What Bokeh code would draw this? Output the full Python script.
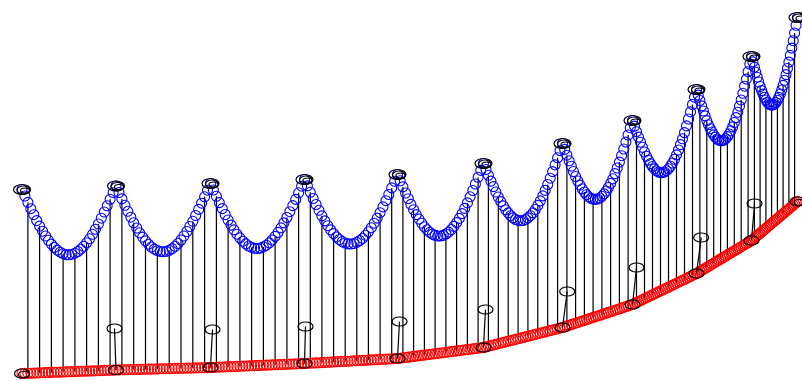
from bokeh.plotting import figure
from bokeh.embed import file_html
from bokeh.resources import INLINE

# sample positions along the curves (left to right)
xs = [
    21.5, 24.4, 27.4, 30.3, 33.3, 36.2, 39.1, 42.1, 45.0, 47.9, 50.9, 53.8, 56.8, 59.7, 62.6, 65.6,
    68.5, 71.4, 74.4, 77.3, 80.3, 83.2, 86.1, 89.1, 92.0, 94.9, 97.9, 100.8, 103.8, 106.7, 109.6, 112.6,
    115.5, 118.5, 121.4, 124.4, 127.3, 130.3, 133.2, 136.2, 139.1, 142.1, 145.0, 148.0, 150.9, 153.9, 156.8, 159.8,
    162.7, 165.7, 168.7, 171.6, 174.6, 177.5, 180.5, 183.4, 186.4, 189.3, 192.3, 195.2, 198.2, 201.1, 204.1, 207.0,
    210.0, 212.9, 215.9, 218.8, 221.8, 224.7, 227.6, 230.6, 233.5, 236.4, 239.4, 242.3, 245.3, 248.2, 251.1, 254.1,
    257.0, 259.9, 262.9, 265.8, 268.8, 271.7, 274.6, 277.6, 280.5, 283.4, 286.4, 289.3, 292.3, 295.2, 298.1, 301.1,
    304.0, 306.9, 309.8, 312.7, 315.6, 318.5, 321.4, 324.3, 327.3, 330.2, 333.1, 336.0, 338.9, 341.8, 344.7, 347.6,
    350.5, 353.4, 356.3, 359.2, 362.1, 365.0, 367.9, 370.8, 373.7, 376.7, 379.6, 382.5, 385.4, 388.3, 391.2, 394.1,
    397.0, 399.7, 402.4, 405.1, 407.8, 410.4, 413.1, 415.8, 418.5, 421.2, 423.9, 426.6, 429.3, 431.9, 434.6, 437.3,
    440.0, 442.7, 445.4, 448.1, 450.8, 453.4, 456.1, 458.8, 461.5, 464.2, 466.9, 469.6, 472.3, 474.9, 477.6, 480.3,
    483.0, 485.5, 487.9, 490.4, 492.9, 495.3, 497.8, 500.3, 502.8, 505.2, 507.7, 510.2, 512.6, 515.1, 517.6, 520.0,
    522.5, 525.0, 527.4, 529.9, 532.4, 534.8, 537.3, 539.8, 542.3, 544.7, 547.2, 549.7, 552.1, 554.6, 557.1, 559.5,
    562.0, 564.2, 566.4, 568.6, 570.8, 572.9, 575.1, 577.3, 579.5, 581.7, 583.9, 586.1, 588.3, 590.4, 592.6, 594.8,
    597.0, 599.2, 601.4, 603.6, 605.8, 607.9, 610.1, 612.3, 614.5, 616.7, 618.9, 621.1, 623.3, 625.4, 627.6, 629.8,
    632.0, 634.0, 636.0, 638.0, 640.0, 642.0, 644.0, 646.0, 648.0, 650.0, 652.0, 654.0, 656.0, 658.0, 660.0, 662.0,
    664.0, 666.0, 668.0, 670.0, 672.0, 674.0, 676.0, 678.0, 680.0, 682.0, 684.0, 686.0, 688.0, 690.0, 692.0, 694.0,
    696.0, 697.7, 699.4, 701.2, 702.9, 704.6, 706.3, 708.0, 709.8, 711.5, 713.2, 714.9, 716.6, 718.3, 720.1, 721.8,
    723.5, 725.2, 726.9, 728.7, 730.4, 732.1, 733.8, 735.5, 737.3, 739.0, 740.7, 742.4, 744.1, 745.9, 747.6, 749.3,
    751.0, 752.4, 753.9, 755.3, 756.8, 758.2, 759.6, 761.1, 762.5, 763.9, 765.4, 766.8, 768.3, 769.7, 771.1, 772.6,
    774.0, 775.4, 776.9, 778.3, 779.8, 781.2, 782.6, 784.1, 785.5, 786.9, 788.4, 789.8, 791.3, 792.7, 794.1, 795.6,
    797.0,
]

# lower (red) series
red_y = [
    8.0, 8.1, 8.2, 8.3, 8.4, 8.5, 8.7, 8.8, 8.9, 9.0, 9.1, 9.2, 9.3, 9.4, 9.5, 9.6,
    9.7, 9.9, 10.0, 10.1, 10.2, 10.3, 10.4, 10.5, 10.6, 10.7, 10.8, 10.9, 11.1, 11.2, 11.3, 11.4,
    11.5, 11.6, 11.7, 11.7, 11.8, 11.9, 12.0, 12.0, 12.1, 12.2, 12.3, 12.4, 12.4, 12.5, 12.6, 12.7,
    12.8, 12.8, 12.9, 13.0, 13.1, 13.1, 13.2, 13.3, 13.4, 13.5, 13.5, 13.6, 13.7, 13.8, 13.8, 13.9,
    14.0, 14.1, 14.3, 14.4, 14.5, 14.6, 14.8, 14.9, 15.0, 15.1, 15.3, 15.4, 15.5, 15.6, 15.8, 15.9,
    16.0, 16.1, 16.3, 16.4, 16.5, 16.6, 16.8, 16.9, 17.0, 17.1, 17.3, 17.4, 17.5, 17.6, 17.8, 17.9,
    18.0, 18.2, 18.3, 18.5, 18.6, 18.8, 18.9, 19.1, 19.2, 19.4, 19.6, 19.7, 19.9, 20.0, 20.2, 20.3,
    20.5, 20.7, 20.8, 21.0, 21.1, 21.3, 21.4, 21.6, 21.7, 21.9, 22.1, 22.2, 22.4, 22.5, 22.7, 22.8,
    23.0, 23.3, 23.7, 24.0, 24.4, 24.7, 25.1, 25.4, 25.8, 26.1, 26.4, 26.8, 27.1, 27.5, 27.8, 28.2,
    28.5, 28.8, 29.2, 29.5, 29.9, 30.2, 30.6, 30.9, 31.3, 31.6, 31.9, 32.3, 32.6, 33.0, 33.3, 33.7,
    34.0, 34.6, 35.3, 35.9, 36.5, 37.1, 37.8, 38.4, 39.0, 39.6, 40.3, 40.9, 41.5, 42.1, 42.8, 43.4,
    44.0, 44.6, 45.3, 45.9, 46.5, 47.1, 47.8, 48.4, 49.0, 49.6, 50.3, 50.9, 51.5, 52.1, 52.8, 53.4,
    54.0, 54.7, 55.4, 56.2, 56.9, 57.6, 58.3, 59.0, 59.8, 60.5, 61.2, 61.9, 62.6, 63.3, 64.1, 64.8,
    65.5, 66.2, 66.9, 67.7, 68.4, 69.1, 69.8, 70.5, 71.3, 72.0, 72.7, 73.4, 74.1, 74.9, 75.6, 76.3,
    77.0, 78.0, 78.9, 79.9, 80.9, 81.8, 82.8, 83.8, 84.8, 85.7, 86.7, 87.7, 88.6, 89.6, 90.6, 91.5,
    92.5, 93.5, 94.4, 95.4, 96.4, 97.3, 98.3, 99.3, 100.3, 101.2, 102.2, 103.2, 104.1, 105.1, 106.1, 107.0,
    108.0, 109.0, 110.1, 111.1, 112.1, 113.2, 114.2, 115.2, 116.2, 117.3, 118.3, 119.3, 120.4, 121.4, 122.4, 123.5,
    124.5, 125.5, 126.6, 127.6, 128.6, 129.7, 130.7, 131.7, 132.7, 133.8, 134.8, 135.8, 136.9, 137.9, 138.9, 140.0,
    141.0, 142.2, 143.4, 144.7, 145.9, 147.1, 148.3, 149.5, 150.8, 152.0, 153.2, 154.4, 155.6, 156.8, 158.1, 159.3,
    160.5, 161.7, 162.9, 164.2, 165.4, 166.6, 167.8, 169.0, 170.3, 171.5, 172.7, 173.9, 175.1, 176.3, 177.6, 178.8,
    180.0,
]

# upper (blue) series
blue_y = [
    192.0, 185.5, 179.1, 172.8, 166.8, 160.9, 155.4, 150.3, 145.5, 141.2, 137.4, 134.1, 131.4, 129.3, 127.8, 126.9,
    126.7, 127.2, 128.3, 130.0, 132.3, 135.2, 138.7, 142.7, 147.2, 152.2, 157.5, 163.3, 169.5, 175.7, 182.2, 188.8,
    195.5, 189.0, 182.6, 176.2, 170.2, 164.3, 158.7, 153.5, 148.7, 144.4, 140.6, 137.3, 134.5, 132.4, 130.9, 130.0,
    129.8, 130.1, 131.2, 132.9, 135.2, 138.0, 141.5, 145.5, 150.0, 155.0, 160.2, 166.0, 172.1, 178.3, 184.7, 191.3,
    198.0, 191.5, 185.2, 178.9, 172.9, 167.0, 161.5, 156.4, 151.6, 147.3, 143.6, 140.3, 137.6, 135.5, 134.1, 133.2,
    133.0, 133.4, 134.6, 136.3, 138.6, 141.5, 145.1, 149.1, 153.6, 158.6, 164.0, 169.8, 175.9, 182.1, 188.7, 195.3,
    202.0, 195.6, 189.2, 183.0, 177.0, 171.2, 165.6, 160.6, 155.8, 151.6, 147.9, 144.6, 142.0, 139.9, 138.5, 137.6,
    137.5, 138.0, 139.1, 140.9, 143.2, 146.2, 149.7, 153.8, 158.3, 163.4, 168.8, 174.6, 180.8, 187.0, 193.6, 200.2,
    207.0, 200.7, 194.6, 188.5, 182.8, 177.1, 171.8, 166.9, 162.4, 158.3, 154.7, 151.7, 149.2, 147.4, 146.1, 145.5,
    145.5, 146.1, 147.5, 149.4, 152.0, 155.1, 158.9, 163.1, 167.9, 173.1, 178.6, 184.7, 191.0, 197.5, 204.2, 211.1,
    218.0, 212.0, 206.2, 200.4, 194.9, 189.5, 184.5, 179.9, 175.6, 171.8, 168.6, 165.8, 163.6, 162.0, 161.1, 160.7,
    161.0, 161.9, 163.6, 165.8, 168.6, 172.0, 176.1, 180.6, 185.6, 191.1, 197.0, 203.3, 209.9, 216.6, 223.7, 230.8,
    238.0, 232.1, 226.3, 220.7, 215.3, 210.0, 205.0, 200.5, 196.4, 192.7, 189.5, 186.8, 184.7, 183.2, 182.4, 182.1,
    182.5, 183.5, 185.2, 187.6, 190.5, 194.0, 198.1, 202.7, 207.9, 213.5, 219.4, 225.8, 232.5, 239.4, 246.5, 253.7,
    261.0, 255.4, 249.8, 244.4, 239.3, 234.2, 229.5, 225.3, 221.4, 217.9, 215.0, 212.6, 210.7, 209.5, 208.9, 208.8,
    209.5, 210.8, 212.7, 215.3, 218.5, 222.2, 226.6, 231.5, 236.9, 242.7, 248.9, 255.6, 262.5, 269.6, 277.0, 284.4,
    292.0, 286.4, 281.0, 275.6, 270.5, 265.6, 260.9, 256.7, 252.8, 249.5, 246.6, 244.2, 242.5, 241.3, 240.7, 240.8,
    241.5, 242.8, 244.9, 247.5, 250.7, 254.6, 259.0, 263.9, 269.3, 275.3, 281.5, 288.2, 295.3, 302.4, 309.8, 317.4,
    325.0, 319.6, 314.3, 309.2, 304.3, 299.5, 295.0, 291.0, 287.4, 284.2, 281.5, 279.3, 277.7, 276.7, 276.4, 276.6,
    277.5, 279.0, 281.2, 284.1, 287.5, 291.5, 296.1, 301.2, 306.9, 313.0, 319.4, 326.2, 333.4, 340.8, 348.5, 356.2,
    364.0,
]

# raised markers above the lower series at each crest
mark_x = [114.0, 212.0, 305.0, 399.0, 485.0, 566.7, 636.0, 700.7, 754.0]
mark_y = [53.0, 52.0, 55.0, 60.0, 72.0, 90.0, 114.0, 144.0, 178.0]

p = figure(width=802, height=381, x_range=(0, 802), y_range=(0, 381),
           output_backend="svg", toolbar_location=None, min_border=0)
p.axis.visible = False
p.grid.visible = False
p.outline_line_color = None
p.background_fill_color = "white"
p.border_fill_color = "white"

# stems between the two series
seg_x = xs[2::4]
p.segment(x0=seg_x, y0=red_y[2::4], x1=seg_x, y1=blue_y[2::4], line_color="black", line_width=1.2)

p.scatter(xs, red_y, size=10, marker="circle", fill_color=None, line_color="red", line_width=1.1)
p.scatter(xs, blue_y, size=10, marker="circle", fill_color=None, line_color="blue", line_width=1.1)

# crest rings on the upper series
px = xs[::32]
py = blue_y[::32]
p.ellipse(x=px, y=py, width=17, height=10, fill_color=None, line_color="black", line_width=1.2)
p.ellipse(x=[v + 1.5 for v in px], y=[v - 0.5 for v in py], width=13, height=8,
          fill_color=None, line_color="black", line_width=1.2)
p.ellipse(x=[v + 3 for v in px], y=[v - 1 for v in py], width=9, height=5,
          fill_color=None, line_color="black", line_width=1.2)

# rings on the lower series at each crest
rx = xs[::32]
ry = red_y[::32]
p.ellipse(x=rx, y=ry, width=15, height=9, fill_color=None, line_color="black", line_width=1.2)
p.ellipse(x=[rx[0] + 2, rx[-1] + 2], y=[ry[0] - 1, ry[-1] - 1], width=11, height=6,
          fill_color=None, line_color="black", line_width=1.2)

# raised markers and their connectors
p.segment(x0=mark_x, y0=mark_y, x1=rx[1:10], y1=ry[1:10], line_color="black", line_width=1.2)
p.ellipse(x=mark_x, y=mark_y, width=15, height=9, fill_color=None, line_color="black", line_width=1.2)

open("out.html", "w").write(file_html(p, INLINE))
